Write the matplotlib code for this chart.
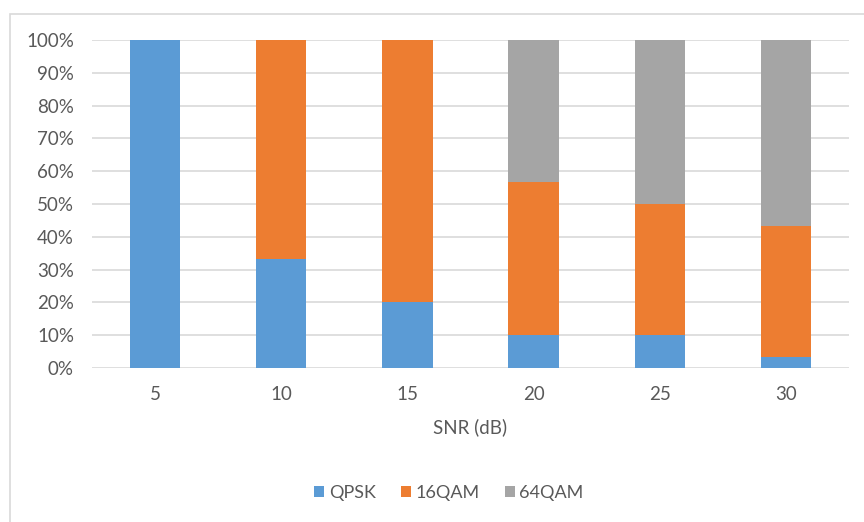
import matplotlib
matplotlib.use("Agg")
import matplotlib.pyplot as plt
from matplotlib.patches import Rectangle
from matplotlib.ticker import PercentFormatter
import numpy as np

snr_labels = ["5", "10", "15", "20", "25", "30"]
qpsk = [1.0, 0.333, 0.20, 0.10, 0.10, 0.033]
qam16 = [0.0, 0.667, 0.80, 0.467, 0.40, 0.40]
qam64 = [0.0, 0.0, 0.0, 0.433, 0.50, 0.567]

series_names = ["QPSK", "16QAM", "64QAM"]
colors = ["#5B9BD5", "#ED7D31", "#A5A5A5"]
text_color = "#595959"

plt.rcParams["font.family"] = ["Lato", "DejaVu Sans"]

W, H = 864, 522
fig = plt.figure(figsize=(W / 100, H / 100), dpi=100)

# chart frame
fig.patches.append(Rectangle((10 / W, -0.1), 1.2, (H - 14) / H + 0.1,
                             transform=fig.transFigure, fill=False,
                             edgecolor="#D9D9D9", linewidth=1.2))

ax = fig.add_axes([92 / W, 154 / H, (849 - 92) / W, (482 - 154) / H])

x = np.arange(len(snr_labels))
bottom = np.zeros(len(snr_labels))
handles = []
for name, vals, c in zip(series_names, [qpsk, qam16, qam64], colors):
    vals = np.array(vals)
    h = ax.bar(x, vals, width=0.4, bottom=bottom, color=c, label=name, zorder=3)
    handles.append(h)
    bottom += vals

ax.set_xlim(-0.5, len(snr_labels) - 0.5)
ax.set_ylim(0, 1)
ax.set_yticks(np.linspace(0, 1, 11))
ax.yaxis.set_major_formatter(PercentFormatter(1.0, decimals=0))
ax.set_xticks(x)
ax.set_xticklabels(snr_labels)
ax.grid(axis="y", color="#D9D9D9", linewidth=1.2, zorder=0)
for s in ax.spines.values():
    s.set_visible(False)
ax.tick_params(axis="both", length=0, labelsize=13.5, colors=text_color)
ax.tick_params(axis="y", pad=13)
ax.tick_params(axis="x", pad=13)
ax.set_xlabel("SNR (dB)", fontsize=13.5, color=text_color, labelpad=11)

fig.legend(handles=handles, labels=series_names, loc="center",
           bbox_to_anchor=(449 / W, 1 - 493 / H), ncol=3, frameon=False,
           fontsize=13, labelcolor=text_color, handlelength=0.55,
           handleheight=0.55, handletextpad=0.25, columnspacing=1.4)

fig.savefig("out.png", dpi=100, facecolor="white")
